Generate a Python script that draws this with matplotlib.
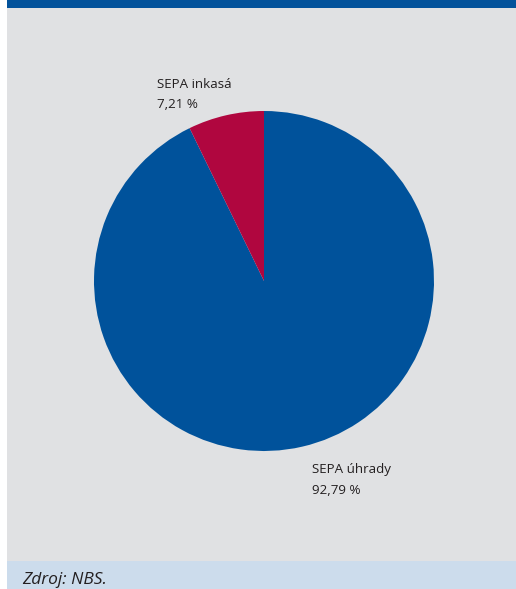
import matplotlib.pyplot as plt
from matplotlib.patches import Rectangle

# data
categories = ["SEPA úhrady", "SEPA inkasá"]
shares = [92.79, 7.21]
colors = ["#00529B", "#B0063F"]

W, H = 516, 589
fig = plt.figure(figsize=(W / 100, H / 100), dpi=100)
fig.patch.set_facecolor("white")

# background panels (pixel coords -> figure coords)
def px_rect(x0, y0, x1, y1, color):
    fig.patches.append(Rectangle((x0 / W, 1 - y1 / H), (x1 - x0) / W, (y1 - y0) / H,
                                 transform=fig.transFigure, facecolor=color,
                                 edgecolor="none", zorder=-5))

px_rect(7, 8, W, 561, "#E0E1E3")
px_rect(7, 0, W, 8, "#03529B")
px_rect(7, 561, W, H, "#CCDCEC")

# pie
cx, cy, r = 264, 281, 170
ax = fig.add_axes([(cx - r) / W, 1 - (cy + r) / H, 2 * r / W, 2 * r / H])
ax.set_zorder(2)
ax.patch.set_visible(False)
ax.pie(shares, colors=colors, startangle=90, counterclock=False,
       wedgeprops=dict(linewidth=0))
ax.set_xlim(-1, 1)
ax.set_ylim(-1, 1)
ax.set_aspect("auto")
ax.axis("off")

font = "Open Sans"
def fmt(v):
    return f"{v:.2f}".replace(".", ",") + " %"

label_pos = {"SEPA úhrady": (312, 470), "SEPA inkasá": (157, 85)}
for cat, val in zip(categories, shares):
    x, y = label_pos[cat]
    fig.text(x / W, 1 - y / H, cat, fontsize=9.6, family=font,
             color="#231F20", va="center", ha="left")
    fig.text(x / W, 1 - (y + 20) / H, fmt(val), fontsize=9.6, family=font,
             color="#231F20", va="center", ha="left")

fig.text(22 / W, 1 - 580 / H, "Zdroj: NBS.", fontsize=12.5, family=font,
         style="italic", color="#231F20", va="center", ha="left")

fig.savefig("out.png", dpi=100)
